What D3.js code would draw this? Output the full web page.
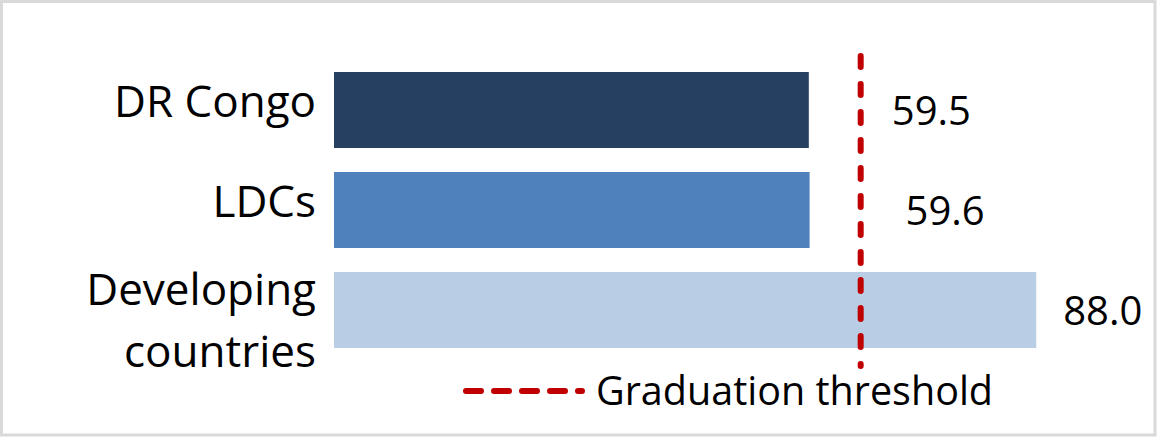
<!DOCTYPE html>
<html>
    <head>
        <meta charset="utf-8"/>
        <script src="https://d3js.org/d3.v7.min.js"></script>
        <style>
            body { margin: 0; background: #fff; }
            text { font-family: "Open Sans", sans-serif; fill: #000; }
        </style>
    </head>
    <body>
        <div id="output"></div>
        <script>
            //Chart data
            var categories = ["DR Congo", "LDCs", "Developing countries"];
            var values = [59.5, 59.6, 88.0];
            var threshold = 66;
            var legendLabel = "Graduation threshold";

            //Bar colours, one per category
            var barColors = ["#264061", "#4f81bd", "#b9cde5"];
            //Manual nudges of the value labels (the original had them dragged by hand)
            var labelShift = [83, 96, 27];

            var width = 1158, height = 438;

            var svg = d3.select("#output")
                .append("svg")
                    .attr("width", width)
                    .attr("height", height);

            //Chart frame
            svg.append("rect")
                .attr("x", 1.5)
                .attr("y", 1.5)
                .attr("width", width - 4.5)
                .attr("height", height - 4.5)
                .attr("fill", "#fff")
                .attr("stroke", "#d9d9d9")
                .attr("stroke-width", 3);

            //Scales
            var x = d3.scaleLinear()
                .domain([0, 100])
                .range([334, 334 + 798]);

            var y = d3.scaleBand()
                .domain(categories)
                .range([60, 360])
                .paddingInner(0.24)
                .paddingOuter(0.12);

            var data = categories.map(function(c, i) {
                return {name: c, value: values[i], color: barColors[i], shift: labelShift[i]};
            });

            //Bars
            svg.selectAll("rect.bar")
                .data(data)
                .enter()
                .append("rect")
                    .attr("class", "bar")
                    .attr("x", x(0))
                    .attr("y", function(d) { return y(d.name); })
                    .attr("width", function(d) { return x(d.value) - x(0); })
                    .attr("height", y.bandwidth())
                    .attr("fill", function(d) { return d.color; });

            //Category labels (wrap the long one onto two lines)
            var catLabels = svg.selectAll("text.cat")
                .data(data)
                .enter()
                .append("text")
                    .attr("class", "cat")
                    .attr("text-anchor", "end")
                    .style("font-size", "44px");

            catLabels.each(function(d) {
                var t = d3.select(this);
                var cy = y(d.name) + y.bandwidth() / 2;
                var words = d.name === "Developing countries" ? ["Developing", "countries"] : [d.name];
                if (words.length === 1) {
                    t.append("tspan").attr("x", 316).attr("y", cy + 7).text(words[0]);
                } else {
                    t.append("tspan").attr("x", 316).attr("y", cy - 5).text(words[0]);
                    t.append("tspan").attr("x", 316).attr("y", cy + 57).text(words[1]);
                }
            });

            //Threshold line
            svg.append("line")
                .attr("x1", x(threshold))
                .attr("x2", x(threshold))
                .attr("y1", 56)
                .attr("y2", 366)
                .attr("stroke", "#c00000")
                .attr("stroke-width", 6)
                .attr("stroke-linecap", "round")
                .attr("stroke-dasharray", "11,17");

            //Value labels
            svg.selectAll("text.val")
                .data(data)
                .enter()
                .append("text")
                    .attr("class", "val")
                    .attr("x", function(d) { return x(d.value) + d.shift; })
                    .attr("y", function(d) { return y(d.name) + y.bandwidth() / 2 + 15; })
                    .style("font-size", "40px")
                    .text(function(d) { return d.value.toFixed(1); });

            //Legend
            svg.append("line")
                .attr("x1", 466)
                .attr("x2", 582)
                .attr("y1", 391)
                .attr("y2", 391)
                .attr("stroke", "#c00000")
                .attr("stroke-width", 6)
                .attr("stroke-linecap", "round")
                .attr("stroke-dasharray", "15,13");

            svg.append("text")
                .attr("x", 596)
                .attr("y", 405)
                .style("font-size", "39.5px")
                .text(legendLabel);
        </script>
    </body>
</html>
